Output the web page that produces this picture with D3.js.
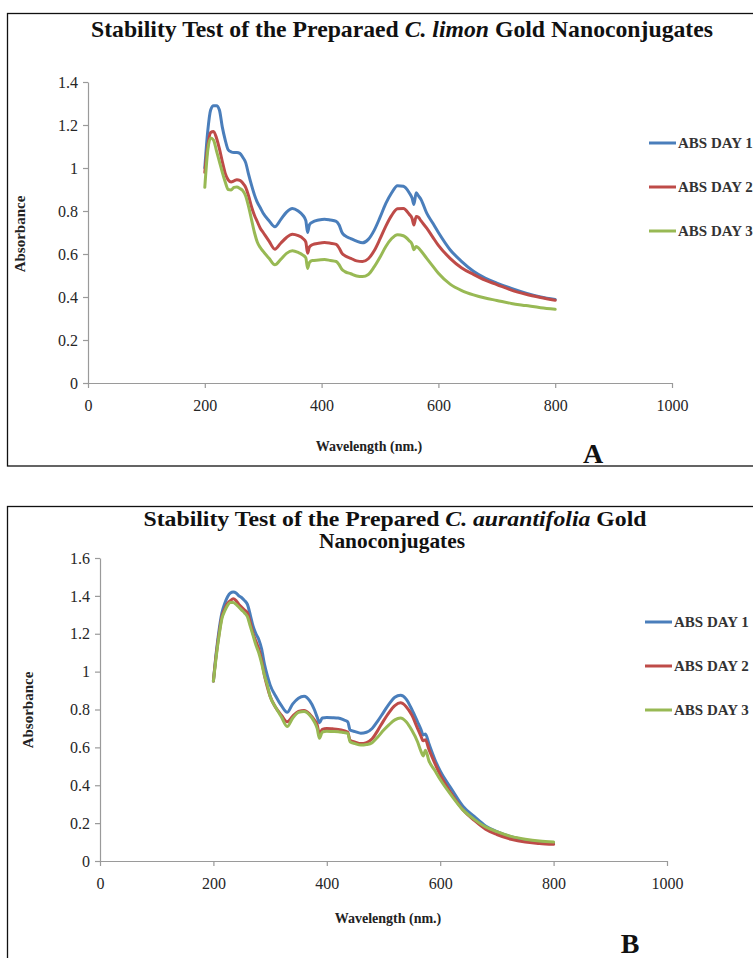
<!DOCTYPE html>
<html>
<head>
<meta charset="utf-8">
<script src="https://cdn.jsdelivr.net/npm/d3@7"></script>
<style>
  html, body { margin: 0; padding: 0; background: #fff; overflow: hidden; }
  svg { display: block; }
  text { font-family: "Liberation Serif", "Times New Roman", serif; }
</style>
</head>
<body>
<script>
// ---- Panel A: C. limon gold nanoconjugates ----
const wavelengthsA = [200,205,210,215,220,225,230,235,240,245,250,255,260,265,270,275,280,285,290,295,300,310,320,330,340,350,360,368,373,376,379,384,395,405,415,425,430,435,440,450,460,470,480,490,500,510,520,530,540,550,555,558,562,566,570,580,590,600,620,640,660,680,700,725,750,775,800];
const day1A = [1.00,1.17,1.27,1.29,1.29,1.27,1.19,1.13,1.085,1.075,1.072,1.072,1.068,1.05,1.025,0.97,0.92,0.875,0.84,0.815,0.79,0.755,0.727,0.76,0.795,0.812,0.80,0.78,0.755,0.70,0.735,0.748,0.758,0.762,0.758,0.752,0.735,0.70,0.685,0.672,0.66,0.652,0.668,0.71,0.77,0.835,0.885,0.918,0.915,0.885,0.86,0.83,0.885,0.87,0.855,0.79,0.745,0.70,0.62,0.565,0.52,0.488,0.465,0.44,0.418,0.40,0.388];
const day2A = [0.98,1.10,1.165,1.17,1.14,1.09,1.03,0.975,0.945,0.935,0.94,0.945,0.942,0.93,0.91,0.87,0.82,0.78,0.75,0.72,0.70,0.66,0.622,0.65,0.677,0.692,0.685,0.672,0.655,0.603,0.632,0.643,0.65,0.653,0.65,0.645,0.628,0.603,0.592,0.58,0.568,0.565,0.578,0.615,0.67,0.73,0.78,0.81,0.812,0.785,0.765,0.735,0.775,0.77,0.755,0.72,0.68,0.64,0.58,0.535,0.505,0.478,0.458,0.432,0.413,0.398,0.385];
const day3A = [0.91,1.08,1.14,1.13,1.08,1.03,0.98,0.935,0.90,0.898,0.91,0.912,0.905,0.895,0.87,0.82,0.76,0.70,0.655,0.63,0.612,0.58,0.55,0.575,0.603,0.615,0.607,0.595,0.582,0.533,0.56,0.57,0.572,0.574,0.57,0.565,0.55,0.528,0.518,0.508,0.498,0.495,0.505,0.54,0.585,0.635,0.672,0.69,0.685,0.662,0.645,0.62,0.635,0.628,0.615,0.58,0.545,0.51,0.46,0.43,0.41,0.395,0.384,0.37,0.36,0.35,0.343];

// ---- Panel B: C. aurantifolia gold nanoconjugates ----
const wavelengthsB = [200,205,210,215,220,225,230,235,240,245,250,255,260,265,270,275,280,285,290,295,300,310,320,330,340,350,360,370,378,383,387,392,400,410,420,430,437,441,450,460,470,480,490,500,510,520,530,540,550,560,566,570,574,580,590,600,620,640,660,680,700,725,750,775,800];
const day1B = [0.95,1.10,1.22,1.31,1.36,1.395,1.415,1.42,1.415,1.40,1.39,1.375,1.355,1.30,1.24,1.20,1.17,1.12,1.04,0.98,0.93,0.87,0.82,0.785,0.83,0.86,0.87,0.845,0.80,0.76,0.73,0.755,0.758,0.757,0.755,0.745,0.735,0.692,0.683,0.675,0.68,0.70,0.74,0.785,0.83,0.865,0.875,0.855,0.80,0.735,0.695,0.665,0.67,0.62,0.54,0.475,0.38,0.29,0.235,0.185,0.155,0.128,0.11,0.10,0.095];
const day2B = [0.95,1.09,1.20,1.29,1.33,1.36,1.375,1.385,1.375,1.355,1.34,1.325,1.31,1.26,1.20,1.16,1.12,1.06,0.98,0.92,0.87,0.81,0.77,0.735,0.765,0.79,0.795,0.775,0.745,0.72,0.67,0.695,0.70,0.698,0.695,0.688,0.68,0.638,0.628,0.62,0.625,0.645,0.69,0.74,0.785,0.82,0.835,0.815,0.77,0.70,0.66,0.635,0.64,0.59,0.52,0.455,0.355,0.27,0.215,0.168,0.14,0.115,0.10,0.093,0.088];
const day3B = [0.95,1.08,1.19,1.28,1.32,1.35,1.365,1.365,1.355,1.34,1.325,1.31,1.29,1.24,1.19,1.14,1.10,1.045,0.98,0.93,0.87,0.81,0.76,0.71,0.755,0.785,0.79,0.77,0.735,0.70,0.648,0.68,0.685,0.684,0.683,0.678,0.674,0.63,0.62,0.612,0.615,0.625,0.655,0.69,0.72,0.745,0.755,0.735,0.69,0.63,0.58,0.555,0.585,0.53,0.48,0.43,0.345,0.27,0.22,0.18,0.155,0.13,0.115,0.105,0.10];

const seriesNames = ["ABS DAY 1", "ABS DAY 2", "ABS DAY 3"];
const seriesColors = ["#4a7ebb", "#be4b48", "#98b954"];
const xTicks = [0, 200, 400, 600, 800, 1000];
const yTicksA = [0, 0.2, 0.4, 0.6, 0.8, 1, 1.2, 1.4];
const yTicksB = [0, 0.2, 0.4, 0.6, 0.8, 1, 1.2, 1.4, 1.6];

const svg = d3.select("body").append("svg")
  .attr("width", 753).attr("height", 958);

function drawPanel(p) {
  const g = svg.append("g");

  // frame
  g.append("rect")
    .attr("x", p.frame[0]).attr("y", p.frame[1])
    .attr("width", p.frame[2]).attr("height", p.frame[3])
    .attr("fill", "#fff").attr("stroke", "#111").attr("stroke-width", 1.3);

  const x = d3.scaleLinear().domain([0, 1000]).range([p.plot.left, p.plot.right]);
  const y = d3.scaleLinear().domain([0, p.yMax]).range([p.plot.bottom, p.plot.top]);

  const fmt = d => d === 0 ? "0" : String(+d.toFixed(1));

  const yAxis = g.append("g")
    .attr("transform", `translate(${p.plot.left},0)`)
    .call(d3.axisLeft(y).tickValues(p.yTicks).tickSize(5).tickSizeOuter(0).tickPadding(5).tickFormat(fmt));
  const xAxis = g.append("g")
    .attr("transform", `translate(0,${p.plot.bottom})`)
    .call(d3.axisBottom(x).tickValues(xTicks).tickSize(5).tickSizeOuter(0).tickPadding(12).tickFormat(d3.format("d")));

  [yAxis, xAxis].forEach(a => {
    a.select(".domain").attr("stroke", "#9a9a9a").attr("stroke-width", 1.2);
    a.selectAll(".tick line").attr("stroke", "#9a9a9a").attr("stroke-width", 1.2);
    a.selectAll(".tick text")
      .attr("fill", "#262626")
      .style("font-family", '"Liberation Serif", "Times New Roman", serif')
      .style("font-size", "16px");
  });

  // spectra
  const line = d3.line()
    .x(d => x(d[0])).y(d => y(d[1]))
    .curve(d3.curveMonotoneX);
  p.series.forEach((vals, i) => {
    const pts = p.wavelengths.map((w, k) => [w, vals[k]]);
    g.append("path")
      .datum(pts)
      .attr("fill", "none")
      .attr("stroke", seriesColors[i])
      .attr("stroke-width", 3)
      .attr("stroke-linejoin", "round")
      .attr("stroke-linecap", "round")
      .attr("d", line);
  });

  // title, one text element per line, fitted to its line width
  p.title.forEach((ln, li) => {
    const t = g.append("text")
      .attr("x", p.titleX[li]).attr("y", p.titleY + li * p.titleLead)
      .attr("text-anchor", "middle")
      .attr("font-weight", "bold")
      .attr("font-size", p.titleSize + "px")
      .attr("fill", "#111");
    if (ln.width) t.attr("textLength", ln.width).attr("lengthAdjust", "spacingAndGlyphs");
    ln.parts.forEach(part => {
      const ts = t.append("tspan").text(part.t);
      if (part.i) ts.attr("font-style", "italic");
    });
  });

  // axis titles
  g.append("text")
    .attr("transform", `translate(${p.yLabel[0]},${p.yLabel[1]}) rotate(-90)`)
    .attr("text-anchor", "middle")
    .attr("font-weight", "bold").attr("font-size", "15px").attr("fill", "#222")
    .text("Absorbance");
  g.append("text")
    .attr("x", p.xLabel[0]).attr("y", p.xLabel[1])
    .attr("text-anchor", "middle")
    .attr("font-weight", "bold").attr("font-size", "14px").attr("fill", "#222")
    .text("Wavelength (nm.)");

  // panel letter
  g.append("text")
    .attr("x", p.letterPos[0]).attr("y", p.letterPos[1])
    .attr("text-anchor", "middle")
    .attr("font-weight", "bold").attr("font-size", "28px").attr("fill", "#111")
    .text(p.letter);

  // legend
  seriesNames.forEach((name, i) => {
    const ly = p.legend.y0 + i * p.legend.dy;
    g.append("line")
      .attr("x1", p.legend.x).attr("x2", p.legend.x + 27)
      .attr("y1", ly).attr("y2", ly)
      .attr("stroke", seriesColors[i]).attr("stroke-width", 3);
    g.append("text")
      .attr("x", p.legend.x + 29).attr("y", ly + 5)
      .attr("font-weight", "bold").attr("font-size", "15px").attr("fill", "#333")
      .text(name);
  });
}

drawPanel({
  frame: [7.5, 13.5, 800, 452.5],
  plot: { left: 88, right: 672, top: 82, bottom: 383 },
  yMax: 1.4, yTicks: yTicksA,
  wavelengths: wavelengthsA, series: [day1A, day2A, day3A],
  title: [{ parts: [{ t: "Stability Test of the Preparaed " }, { t: "C. limon", i: true }, { t: " Gold Nanoconjugates" }], width: 622 }],
  titleSize: 23, titleX: [402], titleY: 37, titleLead: 0,
  yLabel: [25, 234], xLabel: [369, 451],
  letter: "A", letterPos: [593, 463],
  legend: { x: 649, y0: 143, dy: 44 }
});

drawPanel({
  frame: [7.5, 506.5, 800, 500],
  plot: { left: 100, right: 667, top: 558, bottom: 861 },
  yMax: 1.6, yTicks: yTicksB,
  wavelengths: wavelengthsB, series: [day1B, day2B, day3B],
  title: [
    { parts: [{ t: "Stability Test of the Prepared " }, { t: "C. aurantifolia", i: true }, { t: " Gold" }], width: 503 },
    { parts: [{ t: "Nanoconjugates" }], width: 146 }
  ],
  titleSize: 22, titleX: [395, 392], titleY: 526, titleLead: 22,
  yLabel: [33, 710], xLabel: [388, 923],
  letter: "B", letterPos: [630, 953],
  legend: { x: 645, y0: 622, dy: 44 }
});
</script>
</body>
</html>
